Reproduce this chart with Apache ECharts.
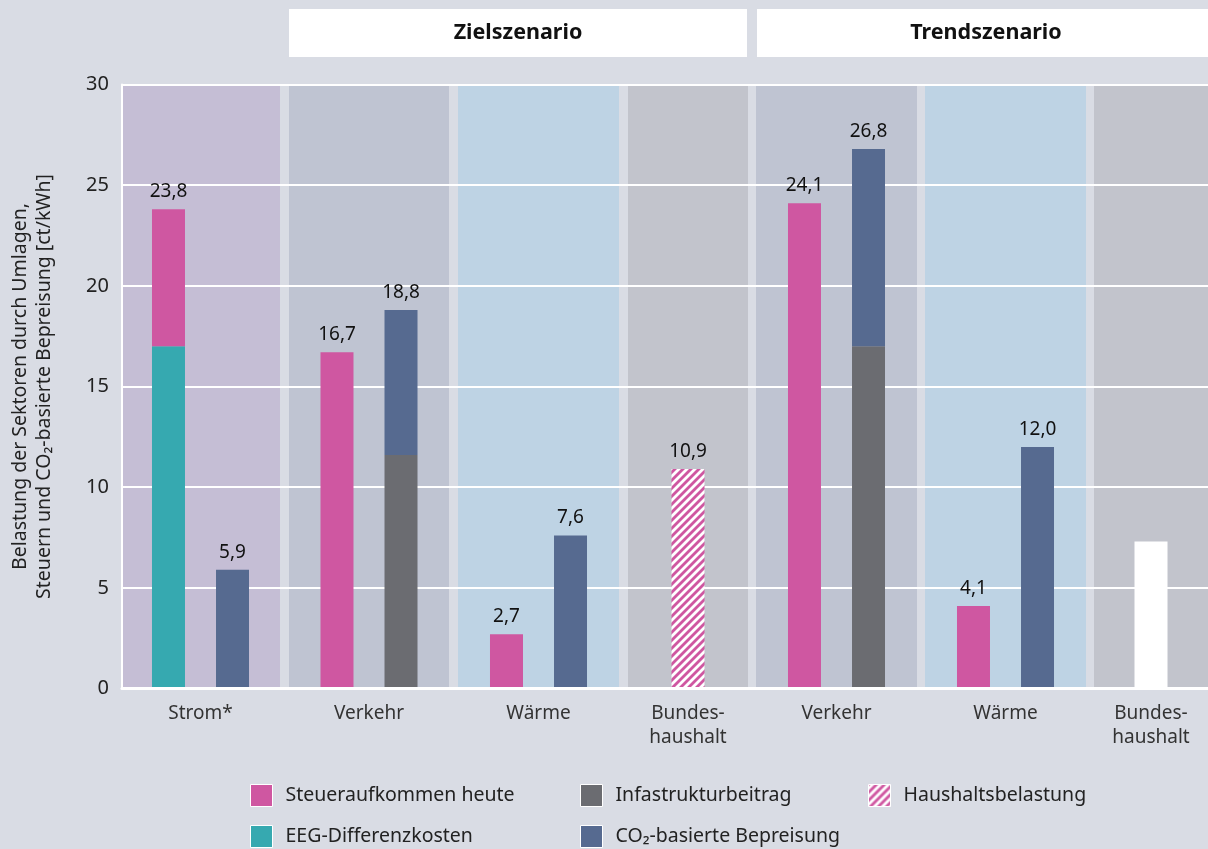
<!DOCTYPE html>
<html>
<head>
<meta charset="utf-8">
<script src="https://cdn.jsdelivr.net/npm/echarts@6/dist/echarts.min.js"></script>
<style>
html,body{margin:0;padding:0;background:#d9dce4;}
#c{width:1208px;height:849px;}
</style>
</head>
<body>
<div id="c"></div>
<script>
// ---- data ----
const categories = ['Strom*', 'Verkehr', 'Wärme', 'Bundes-\nhaushalt', 'Verkehr', 'Wärme', 'Bundes-\nhaushalt'];
const eegDifferenz = [17.0, null, null, null, null, null, null];
const steueraufkommen = [6.8, 16.7, 2.7, null, 24.1, 4.1, null];
const infrastruktur = [null, 11.6, null, null, 17.0, null, null];
const co2Bepreisung = [5.9, 7.2, 7.6, null, 9.8, 12.0, null];
const haushaltsbelastung = [null, null, null, 10.9, null, null, null];
const bundeshaushaltTrend = [null, null, null, null, null, null, 7.3];
const scenarios = ['Zielszenario', 'Trendszenario'];
const yMin = 0, yMax = 30, yStep = 5;

// ---- layout / style ----
const FONT = 'Noto Sans';
const C = {
  pink: '#cf57a1', teal: '#36a9b0', blue: '#566a90', grey: '#6b6c71', white: '#ffffff'
};
const bands = [
  {left: 121, width: 159, color: '#c5bed5'},
  {left: 289, width: 160, color: '#bfc4d2'},
  {left: 458, width: 161, color: '#bed3e4'},
  {left: 628, width: 120, color: '#c2c4cc'},
  {left: 756, width: 161, color: '#bfc4d2'},
  {left: 925, width: 161, color: '#bed3e4'},
  {left: 1094, width: 120, color: '#c2c4cc'}
];
const TOP = 84.5, H = 604;

// hatch pattern
const pc = document.createElement('canvas');
pc.width = 8; pc.height = 8;
const px = pc.getContext('2d');
px.fillStyle = '#ffffff'; px.fillRect(0, 0, 8, 8);
px.strokeStyle = C.pink; px.lineWidth = 2.8;
[[-4, 4, 4, -4], [0, 8, 8, 0], [4, 12, 12, 4]].forEach(l => {
  px.beginPath(); px.moveTo(l[0], l[1]); px.lineTo(l[2], l[3]); px.stroke();
});
const hatch = {image: pc, repeat: 'repeat'};

const fmt = v => v.toFixed(1).replace('.', ',');

const grids = [], xAxes = [], yAxes = [], series = [];
bands.forEach((b, i) => {
  grids.push({left: b.left, width: b.width, top: TOP, height: H, show: true,
    backgroundColor: b.color, borderWidth: 0, containLabel: false});
  xAxes.push({type: 'category', gridIndex: i, data: [categories[i]],
    axisLine: {show: false}, axisTick: {show: false}, splitLine: {show: false},
    axisLabel: {fontFamily: FONT, fontSize: 19, color: '#333', margin: 13, lineHeight: 24}});
  yAxes.push({type: 'value', gridIndex: i, min: yMin, max: yMax, show: false, splitLine: {show: false}});
});
// main grid carrying y axis and gridlines
grids.push({left: 120, right: 0, top: TOP, height: H, show: false});
xAxes.push({type: 'category', gridIndex: 7, data: [''], axisTick: {show: false}, axisLabel: {show: false},
  axisLine: {show: true, lineStyle: {color: '#ffffff', width: 3}}, z: 5});
yAxes.push({type: 'value', gridIndex: 7, min: yMin, max: yMax, interval: yStep,
  axisLine: {show: true, lineStyle: {color: '#ffffff', width: 2}},
  axisTick: {show: false},
  splitLine: {show: true, lineStyle: {color: '#ffffff', width: 2}},
  axisLabel: {fontFamily: FONT, fontSize: 20, color: '#222', margin: 13},
  name: 'Belastung der Sektoren durch Umlagen,\nSteuern und CO₂-basierte Bepreisung [ct/kWh]',
  nameLocation: 'middle', nameRotate: 90, nameGap: 66,
  nameTextStyle: {fontFamily: FONT, fontSize: 19.5, color: '#222', lineHeight: 24}});

function addStack(i, stackName, parts) {
  const present = parts.filter(p => p.arr[i] != null);
  if (!present.length) return;
  const total = present.reduce((s, p) => s + p.arr[i], 0);
  present.forEach((p, k) => {
    const isTop = k === present.length - 1;
    series.push({
      type: 'bar', name: p.name, xAxisIndex: i, yAxisIndex: i, stack: stackName + i,
      data: [p.arr[i]], barWidth: 33, barGap: '94%',
      itemStyle: {color: p.color}, z: 3,
      label: {show: isTop && p.label !== false, position: 'top', distance: 8,
        fontFamily: FONT, fontSize: 19, color: '#111', formatter: () => fmt(total)}
    });
  });
}
bands.forEach((b, i) => {
  addStack(i, 'L', [
    {name: 'EEG-Differenzkosten', arr: eegDifferenz, color: C.teal},
    {name: 'Steueraufkommen heute', arr: steueraufkommen, color: C.pink}
  ]);
  addStack(i, 'R', [
    {name: 'Infastrukturbeitrag', arr: infrastruktur, color: C.grey},
    {name: 'CO₂-basierte Bepreisung', arr: co2Bepreisung, color: C.blue}
  ]);
  addStack(i, 'H', [{name: 'Haushaltsbelastung', arr: haushaltsbelastung, color: hatch}]);
  addStack(i, 'W', [{name: 'Bundeshaushalt Trend', arr: bundeshaushaltTrend, color: C.white, label: false}]);
});

const legendBase = {orient: 'vertical', itemWidth: 22, itemHeight: 22, itemGap: 18, icon: 'rect',
  padding: 0, height: 90,
  itemStyle: {borderColor: '#ffffff', borderWidth: 1},
  textStyle: {fontFamily: FONT, fontSize: 19.5, color: '#222', padding: [0, 0, 0, 8]},
  selectedMode: false, top: 784};

const chart = echarts.init(document.getElementById('c'), null, {renderer: 'canvas'});
chart.setOption({
  animation: false,
  backgroundColor: '#d9dce4',
  grid: grids, xAxis: xAxes, yAxis: yAxes, series: series,
  legend: [
    Object.assign({}, legendBase, {left: 250, data: ['Steueraufkommen heute', 'EEG-Differenzkosten']}),
    Object.assign({}, legendBase, {left: 580, data: ['Infastrukturbeitrag', 'CO₂-basierte Bepreisung']}),
    Object.assign({}, legendBase, {left: 868, data: ['Haushaltsbelastung']})
  ],
  graphic: [
    {type: 'rect', shape: {x: 289, y: 9, width: 458, height: 48}, style: {fill: '#ffffff'}, silent: true},
    {type: 'text', x: 518, y: 33, style: {text: scenarios[0], fontFamily: FONT, fontWeight: 'bold', fontSize: 21.5,
      fill: '#111', align: 'center', verticalAlign: 'middle'}, silent: true},
    {type: 'rect', shape: {x: 757, y: 9, width: 458, height: 48}, style: {fill: '#ffffff'}, silent: true},
    {type: 'text', x: 986, y: 33, style: {text: scenarios[1], fontFamily: FONT, fontWeight: 'bold', fontSize: 21.5,
      fill: '#111', align: 'center', verticalAlign: 'middle'}, silent: true}
  ]
});
</script>
</body>
</html>
